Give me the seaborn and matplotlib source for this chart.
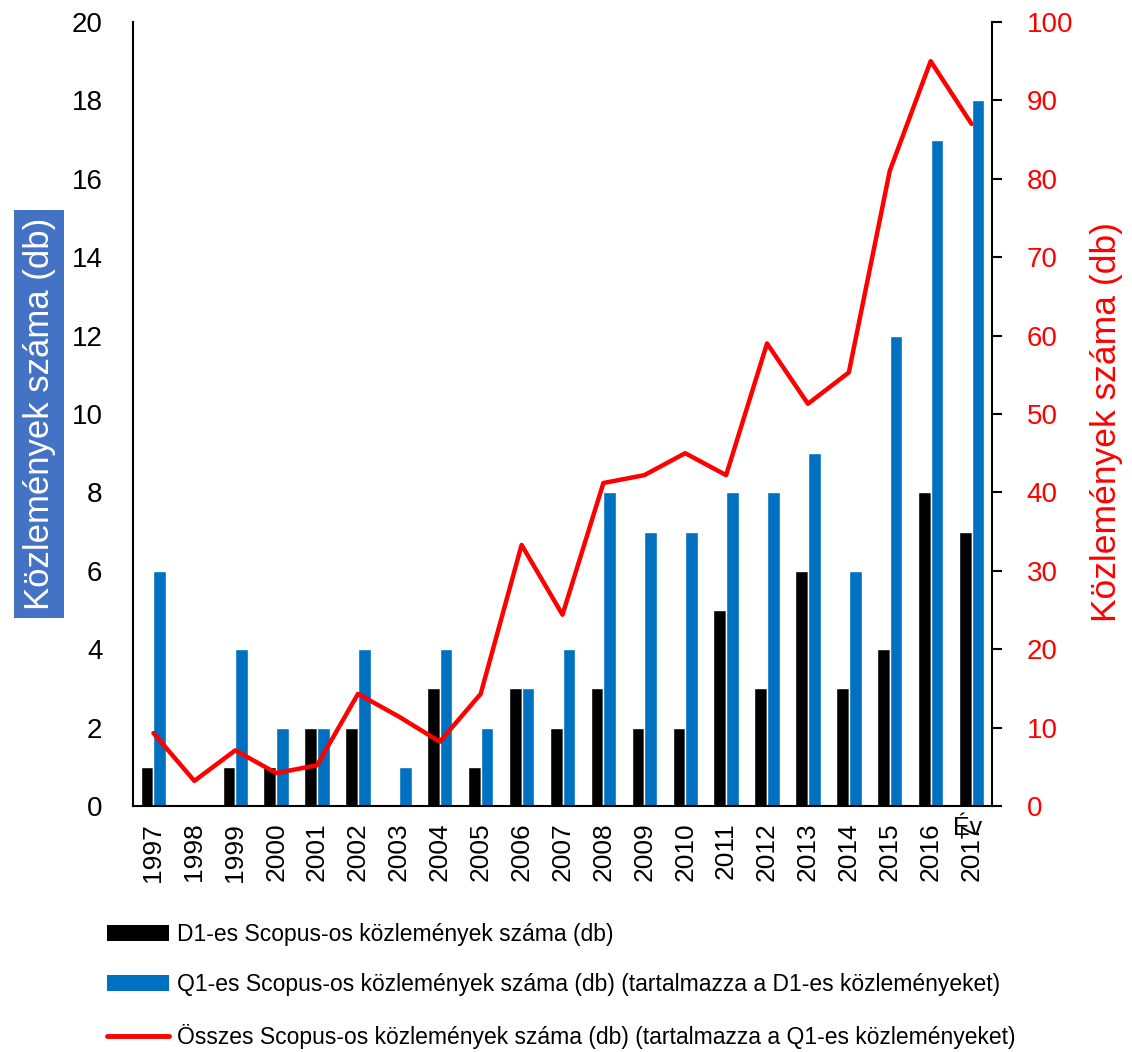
import numpy as np
import pandas as pd
import seaborn as sns
from matplotlib import pyplot as plt
from matplotlib.patches import Patch
from matplotlib.lines import Line2D

years = [str(y) for y in range(1997, 2018)]
d1 = [1, 0, 1, 1, 2, 2, 0, 3, 1, 3, 2, 3, 2, 2, 5, 3, 6, 3, 4, 8, 7]
q1 = [6, 0, 4, 2, 2, 4, 1, 4, 2, 3, 4, 8, 7, 7, 8, 8, 9, 6, 12, 17, 18]
total = [9.3, 3.2, 7.1, 4.2, 5.2, 14.3, 11.4, 8.2, 14.3, 33.3, 24.4, 41.2, 42.2,
         45, 42.2, 59, 51.3, 55.3, 81, 95, 87]

lbl_d1 = "D1-es Scopus-os közlemények száma (db)"
lbl_q1 = "Q1-es Scopus-os közlemények száma (db) (tartalmazza a D1-es közleményeket)"
lbl_tot = "Összes Scopus-os közlemények száma (db) (tartalmazza a Q1-es közleményeket)"
ylabel = "Közlemények száma (db)"

BLACK = "#000000"
BLUE = "#0070C0"
RED = "#FF0000"

sns.set_theme(style="white")
plt.rcParams["font.family"] = ["Liberation Sans", "DejaVu Sans"]
plt.rcParams["text.color"] = "black"
plt.rcParams["xtick.color"] = "black"
plt.rcParams["ytick.color"] = "black"

df = pd.DataFrame({"year": years * 2,
                   "value": d1 + q1,
                   "series": [lbl_d1] * len(years) + [lbl_q1] * len(years)})

fig = plt.figure(figsize=(11.32, 10.52), dpi=100)
ax = fig.add_axes([133 / 1132, 1 - 806 / 1052, 859 / 1132, 784 / 1052])

sns.barplot(data=df, x="year", y="value", hue="series", order=years,
            palette={lbl_d1: BLACK, lbl_q1: BLUE}, width=0.62, dodge=True,
            legend=False, ax=ax, saturation=1)
ax.set_xlim(-0.5, len(years) - 0.5)
ax.set_ylim(0, 20)
ax.set_yticks(range(0, 21, 2))
ax.tick_params(axis="y", length=0, pad=22, labelsize=20)
ax.tick_params(axis="x", length=0, pad=12, labelsize=19, rotation=90)
ax.set_xlabel("")
ax.set_ylabel(ylabel, fontsize=25, color="white",
              bbox=dict(facecolor="#4472C4", edgecolor="none", pad=6))
ax.yaxis.set_label_coords(-0.09, 0.5)
for s in ["top", "right"]:
    ax.spines[s].set_visible(False)
for s in ["left", "bottom"]:
    ax.spines[s].set_color("black")
    ax.spines[s].set_linewidth(1.5)

ax2 = ax.twinx()
sns.lineplot(x=np.arange(len(years)), y=total, color=RED, linewidth=3.2, ax=ax2)
ax2.set_ylim(0, 100)
ax2.set_yticks(range(0, 101, 10))
ax2.tick_params(axis="y", direction="out", length=7, width=1.5, color="black",
                pad=18, labelsize=20, labelcolor=RED)
ax2.set_ylabel(ylabel, fontsize=25.5, color=RED)
ax2.yaxis.set_label_coords(1.114, 0.49)
for s in ["top", "left", "bottom"]:
    ax2.spines[s].set_visible(False)
ax2.spines["right"].set_color("black")
ax2.spines["right"].set_linewidth(1.5)
ax.set_xlim(-0.5, len(years) - 0.5)

ax2.text((968 - 133) / 859, (806 - 828) / 784, "Év", transform=ax.transAxes,
         fontsize=18, ha="center", va="center")

handles = [Patch(facecolor=BLACK, edgecolor="none"),
           Patch(facecolor=BLUE, edgecolor="none"),
           Line2D([0], [0], color=RED, linewidth=3.5)]
fig.legend(handles, [lbl_d1, lbl_q1, lbl_tot], loc="upper left",
           bbox_to_anchor=(86 / 1132, 1 - 902 / 1052), frameon=False,
           fontsize=16.5, handlelength=2.7, handleheight=0.7,
           handletextpad=0.35, labelspacing=1.2)

fig.savefig("out.png", dpi=100)
